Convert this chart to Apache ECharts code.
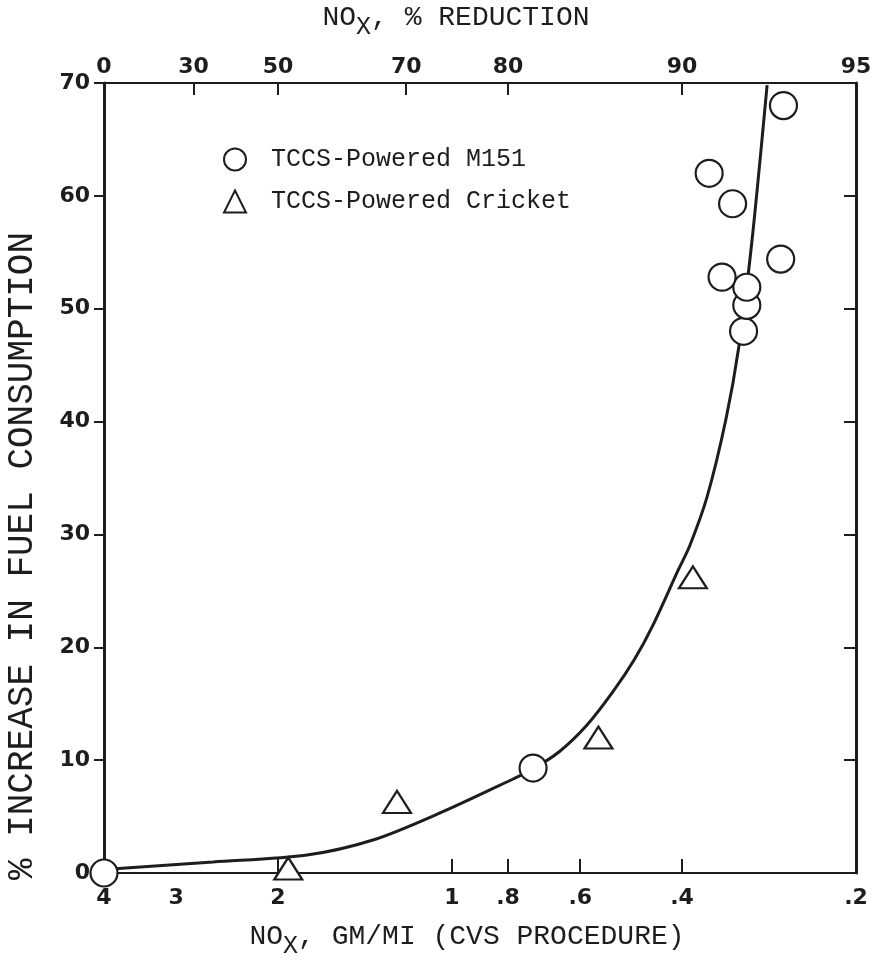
<!DOCTYPE html>
<html><head><meta charset="utf-8">
<script src="https://cdn.jsdelivr.net/npm/echarts@6/dist/echarts.min.js"></script>
<style>html,body{margin:0;padding:0;background:#fff}#c{width:876px;height:963px}</style>
</head><body><div id="c"></div>
<script>
// ---- data ----
const noxTicks = [4, 3, 2, 1, 0.8, 0.6, 0.4, 0.2];
const noxTickLabels = ['4', '3', '2', '1', '.8', '.6', '.4', '.2'];
const noxTickMarks = [2, 1, 0.8, 0.6, 0.4];
const reductionTicks = [0, 30, 50, 70, 80, 90, 95];
const reductionTickMarks = [30, 50, 70, 80, 90];
const m151Nox  = [4, 0.724, 0.313, 0.309, 0.309, 0.341, 0.270, 0.359, 0.327, 0.267];
const m151Fuel = [0, 9.3, 48.0, 50.3, 51.9, 52.8, 54.4, 62.0, 59.3, 68.0];
const cricketNox  = [1.92, 1.245, 0.558, 0.383];
const cricketFuel = [0.4, 6.3, 12.0, 26.2];
const curveNox  = [4, 2.591, 1.782, 1.370, 1.049, 0.784, 0.724, 0.650, 0.584, 0.527, 0.483, 0.449, 0.406, 0.388, 0.362, 0.336, 0.319, 0.303, 0.285];
const curveFuel = [0.3, 0.97, 1.59, 2.92, 5.32, 8.33, 9.21, 10.81, 13.11, 16.04, 18.96, 21.97, 26.85, 28.97, 33.32, 40.14, 46.61, 55.82, 69.82];
const seriesNames = ['TCCS-Powered M151', 'TCCS-Powered Cricket'];

// ---- helpers ----
const ink = '#1d1d1d';
const FONT_DRAFT = 'DejaVu Sans';
const FONT_TYPE = 'Liberation Mono';
const lx = v => Math.log10(v);
const EPS = 1e-6;
const xMin = lx(0.2) - EPS, xMax = lx(4) + EPS;
const toPts = (xs, ys) => xs.map((v, i) => [lx(v), ys[i]]);
const noxPos = r => lx(4 * (1 - r / 100));
function noxLabel(v) {
  for (let i = 0; i < noxTicks.length; i++) if (Math.abs(lx(noxTicks[i]) - v) < 1e-4) return noxTickLabels[i];
  return '';
}
function redLabel(v) {
  for (let i = 0; i < reductionTicks.length; i++) if (Math.abs(noxPos(reductionTicks[i]) - v) < 1e-4) return String(reductionTicks[i]);
  return '';
}
const titleRich = {
  t: { fontFamily: FONT_TYPE, fontSize: 28, color: ink },
  s: { fontFamily: FONT_TYPE, fontSize: 25, color: ink, padding: [20, 0, 0, 0] }
};
const tickFont = { fontFamily: FONT_DRAFT, fontSize: 22, fontWeight: 'bold', color: ink };

const chart = echarts.init(document.getElementById('c'), null, { renderer: 'canvas' });
chart.setOption({
  backgroundColor: '#ffffff',
  animation: false,
  grid: { left: 104, right: 20, top: 83, bottom: 90, containLabel: false, outerBoundsMode: 'none' },
  legend: {
    orient: 'vertical', left: 218, top: 142,
    itemWidth: 22, itemHeight: 22, itemGap: 17,
    textStyle: { fontFamily: FONT_TYPE, fontSize: 25, color: ink, padding: [0, 0, 0, 20] },
    data: seriesNames
  },
  xAxis: [
    {
      type: 'value', position: 'bottom', min: xMin, max: xMax, inverse: true,
      axisLine: { show: true, onZero: false, lineStyle: { color: ink, width: 2 } },
      axisTick: { show: true, inside: true, length: 14, customValues: noxTickMarks.map(lx), lineStyle: { color: ink, width: 2 } },
      axisLabel: Object.assign({ customValues: noxTicks.map(lx), formatter: noxLabel, margin: 14 }, tickFont),
      splitLine: { show: false },
      name: '{t|NO}{s|X}{t|, GM/MI (CVS PROCEDURE)}', nameLocation: 'middle', nameGap: 41,
      nameTextStyle: { rich: titleRich, padding: [0, 26, 0, 0] }
    },
    {
      type: 'value', position: 'top', min: xMin, max: xMax, inverse: true,
      axisLine: { show: true, onZero: false, lineStyle: { color: ink, width: 2 } },
      axisTick: { show: true, inside: true, length: 12, customValues: reductionTickMarks.map(noxPos), lineStyle: { color: ink, width: 2 } },
      axisLabel: Object.assign({ customValues: reductionTicks.map(noxPos), formatter: redLabel, margin: 5 }, tickFont),
      splitLine: { show: false },
      name: '{t|NO}{s|X}{t|, % REDUCTION}', nameLocation: 'middle', nameGap: 43,
      nameTextStyle: { rich: titleRich, padding: [0, 48, 0, 0] }
    }
  ],
  yAxis: [
    {
      type: 'value', position: 'left', min: 0, max: 70, interval: 10,
      axisLine: { show: true, onZero: false, lineStyle: { color: ink, width: 3 } },
      axisTick: { show: true, inside: false, length: 10, lineStyle: { color: ink, width: 2 } },
      axisLabel: Object.assign({ margin: 14 }, tickFont),
      splitLine: { show: false }
    },
    {
      type: 'value', position: 'right', min: 0, max: 70, interval: 10,
      axisLine: { show: true, onZero: false, lineStyle: { color: ink, width: 3 } },
      axisTick: { show: true, inside: true, length: 12, lineStyle: { color: ink, width: 2 } },
      axisLabel: { show: false },
      splitLine: { show: false }
    }
  ],
  graphic: [{
    type: 'text', x: 22, y: 556, rotation: Math.PI / 2,
    style: { text: '% INCREASE IN FUEL CONSUMPTION', fontFamily: FONT_TYPE, fontSize: 36, fill: ink, align: 'center', verticalAlign: 'middle' }
  }],
  series: [
    {
      type: 'line', name: 'fit', data: toPts(curveNox, curveFuel), smooth: 0.3,
      symbol: 'none', lineStyle: { color: ink, width: 3 }, z: 2, silent: true
    },
    {
      type: 'scatter', name: seriesNames[0], data: toPts(m151Nox, m151Fuel),
      symbol: 'circle', symbolSize: 27,
      itemStyle: { color: '#ffffff', borderColor: ink, borderWidth: 2.2, opacity: 1 }, z: 3
    },
    {
      type: 'scatter', name: seriesNames[1], data: toPts(cricketNox, cricketFuel),
      symbol: 'triangle', symbolSize: [28, 22],
      itemStyle: { color: '#ffffff', borderColor: ink, borderWidth: 2.2, opacity: 1 }, z: 3
    }
  ]
});
</script>
</body></html>
